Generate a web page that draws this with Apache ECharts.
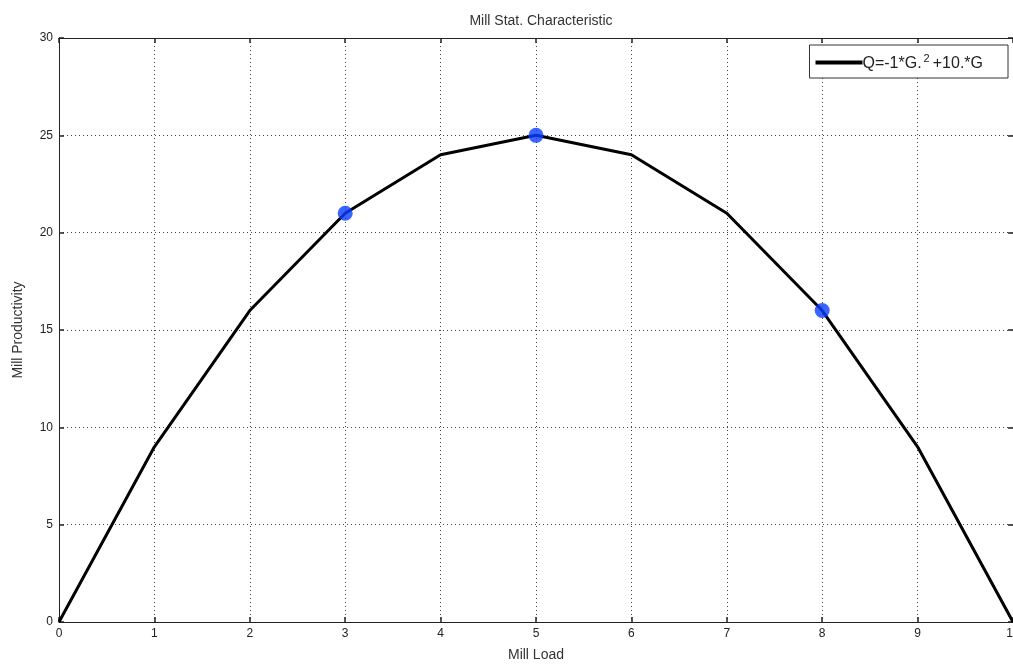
<!DOCTYPE html>
<html>
<head>
<meta charset="utf-8">
<script src="https://cdn.jsdelivr.net/npm/echarts@6/dist/echarts.min.js"></script>
<style>
html,body{margin:0;padding:0;background:#fff;}
#chart{width:1013px;height:666px;}
</style>
</head>
<body>
<div id="chart"></div>
<script>
const millLoad = [0, 1, 2, 3, 4, 5, 6, 7, 8, 9, 10];
const productivity = [0, 9, 16, 21, 24, 25, 24, 21, 16, 9, 0];
const markLoad = [3, 5, 8];
const markProd = [21, 25, 16];
const titleText = 'Mill Stat. Characteristic';
const xName = 'Mill Load';
const yName = 'Mill Productivity';
const legendName = 'Q';

const font = 'Liberation Sans, Arial, sans-serif';
const chart = echarts.init(document.getElementById('chart'));
const axisLineStyle = {show: true, onZero: false, lineStyle: {color: '#222', width: 1}};
const tickStyle = {show: true, inside: true, length: 5, lineStyle: {color: '#222', width: 1.5}};
chart.setOption({
  animation: false,
  backgroundColor: '#fff',
  textStyle: {fontFamily: font},
  title: {
    text: titleText, left: 536, textAlign: 'center', top: 9,
    textStyle: {fontFamily: font, fontSize: 14, fontWeight: 'normal', color: '#333'}
  },
  grid: {left: 59, right: 0, top: 38, bottom: 44, containLabel: false, outerBoundsMode: 'none'},
  legend: {
    data: [legendName],
    right: 5, top: 45,
    backgroundColor: '#fff', borderColor: '#333', borderWidth: 1,
    padding: [8, 25, 6, 6],
    itemWidth: 47, itemHeight: 4, itemGap: 0, icon: 'rect',
    formatter: function () { return '{t|Q=-1*G.}{s|2}{t|+10.*G}'; },
    textStyle: {
      fontFamily: font, color: '#222', padding: [0, 0, 0, -5],
      rich: {
        t: {fontFamily: font, fontSize: 16, color: '#222', verticalAlign: 'bottom'},
        s: {fontFamily: font, fontSize: 11, color: '#222', verticalAlign: 'top', padding: [0, 3, 8, 2]}
      }
    }
  },
  xAxis: [{
    type: 'value', min: 0, max: 10, interval: 1, position: 'bottom',
    name: xName, nameLocation: 'middle', nameGap: 26,
    nameTextStyle: {fontFamily: font, fontSize: 14, color: '#333'},
    axisLabel: {fontFamily: font, fontSize: 12, color: '#222', margin: 6},
    splitLine: {show: true, lineStyle: {type: [1, 3], color: '#444', width: 1}},
    axisLine: axisLineStyle, axisTick: tickStyle
  }, {
    type: 'value', min: 0, max: 10, interval: 1, position: 'top',
    axisLabel: {show: false}, splitLine: {show: false},
    axisLine: axisLineStyle, axisTick: tickStyle
  }],
  yAxis: [{
    type: 'value', min: 0, max: 30, interval: 5, position: 'left',
    name: yName, nameLocation: 'middle', nameGap: 34, nameRotate: 90,
    nameTextStyle: {fontFamily: font, fontSize: 14, color: '#333'},
    axisLabel: {fontFamily: font, fontSize: 12, color: '#222', margin: 6},
    splitLine: {show: true, lineStyle: {type: [1, 3], color: '#444', width: 1}},
    axisLine: axisLineStyle, axisTick: tickStyle
  }, {
    type: 'value', min: 0, max: 30, interval: 5, position: 'right',
    axisLabel: {show: false}, splitLine: {show: false},
    axisLine: axisLineStyle, axisTick: tickStyle
  }],
  series: [{
    name: legendName, type: 'line',
    data: millLoad.map((x, i) => [x, productivity[i]]),
    showSymbol: false, symbol: 'none',
    lineStyle: {color: '#000', width: 3},
    itemStyle: {color: '#000'},
    z: 3
  }, {
    name: 'points', type: 'scatter',
    data: markLoad.map((x, i) => [x, markProd[i]]),
    symbol: 'circle', symbolSize: 15,
    itemStyle: {color: '#0a3cff'},
    z: 4
  }]
});
</script>
</body>
</html>
